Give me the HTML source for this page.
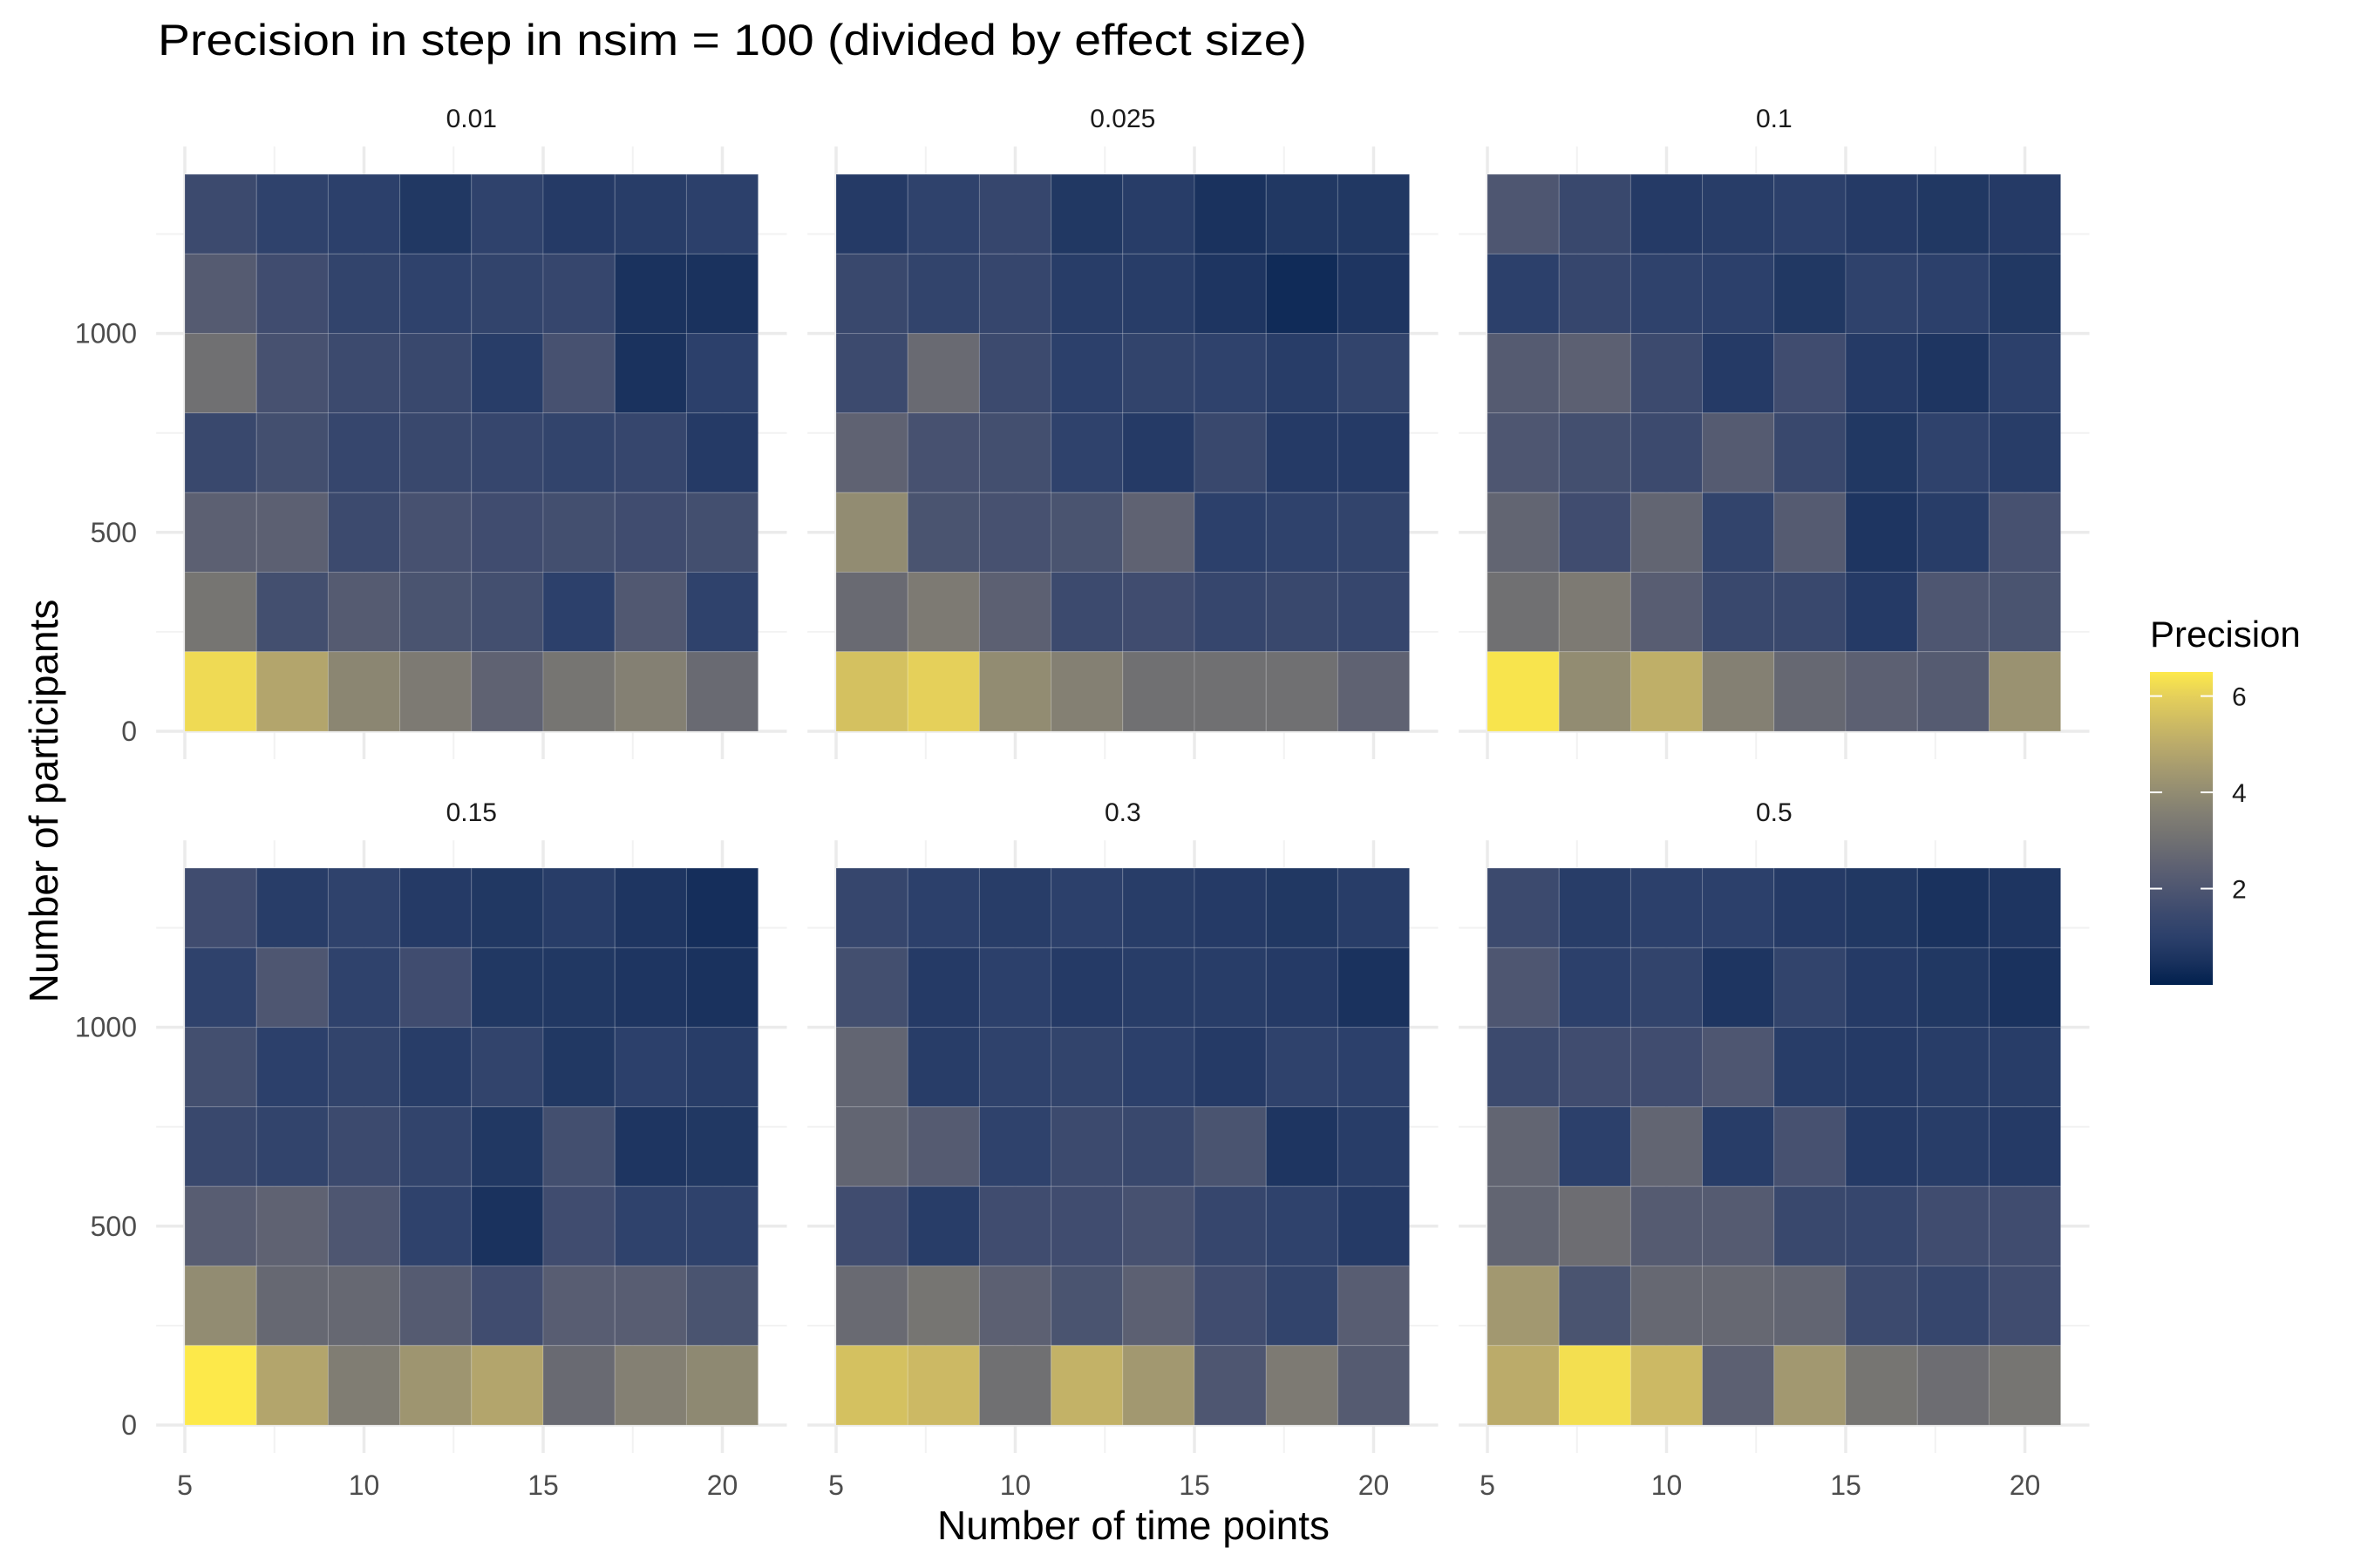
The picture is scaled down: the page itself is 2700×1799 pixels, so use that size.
<!DOCTYPE html>
<html><head><meta charset="utf-8"><style>
html,body{margin:0;padding:0;background:#fff;}
svg{display:block;font-family:"Liberation Sans",sans-serif;}
</style></head><body>
<svg id="chart" width="2700" height="1799" viewBox="0 0 2700 1799" xmlns="http://www.w3.org/2000/svg">
<rect width="2700" height="1799" fill="#fff"/>
<text x="181" y="63" font-size="50" textLength="1318" lengthAdjust="spacingAndGlyphs" fill="#000">Precision in step in nsim = 100 (divided by effect size)</text>
<text x="1300" y="1766" font-size="46" text-anchor="middle" fill="#000">Number of time points</text>
<text transform="translate(66,919) rotate(-90)" font-size="46" text-anchor="middle" fill="#000">Number of participants</text>
<g id="panels"></g>
<g id="legend"></g>
</svg>
<script>
const facetLabels = ["0.01","0.025","0.1","0.15","0.3","0.5"];
const timePoints = [6,8,10,12,14,16,18,20];
const participants = [1300,1100,900,700,500,300,100];
const xTicks = [5,10,15,20];
const yTicks = [0,500,1000];
const legendTicks = [2,4,6];
const p001 = [
[1.5,1.1,1.0,0.7,1.1,0.8,0.9,1.0],
[2.2,1.6,1.2,1.1,1.2,1.3,0.5,0.5],
[3.0,1.8,1.5,1.4,0.9,1.8,0.5,1.0],
[1.4,1.7,1.3,1.4,1.3,1.2,1.3,0.8],
[2.4,2.4,1.5,1.8,1.6,1.7,1.6,1.7],
[3.2,1.7,2.2,1.9,1.7,1.0,2.1,1.1],
[6.2,4.8,3.8,3.4,2.5,3.2,3.6,2.8]];
const p0025 = [
[0.8,1.1,1.3,0.7,0.9,0.5,0.7,0.7],
[1.4,1.2,1.3,0.9,0.9,0.6,0.3,0.6],
[1.5,2.8,1.5,1.0,1.2,1.1,0.9,1.2],
[2.5,1.8,1.7,1.1,0.8,1.4,0.8,0.8],
[4.0,1.9,1.8,1.9,2.5,1.0,1.1,1.2],
[2.8,3.4,2.4,1.5,1.6,1.3,1.4,1.3],
[5.6,6.0,4.0,3.6,3.0,3.0,3.0,2.5]];
const p01 = [
[2.0,1.4,0.8,0.9,1.0,0.8,0.7,0.8],
[1.0,1.3,1.1,1.0,0.7,1.1,1.0,0.7],
[2.2,2.4,1.5,0.8,1.6,0.8,0.6,1.0],
[2.0,1.7,1.5,2.2,1.4,0.7,1.1,0.9],
[2.6,1.6,2.6,1.2,2.2,0.6,0.9,1.8],
[3.0,3.4,2.3,1.4,1.4,0.8,2.0,1.9],
[6.4,4.0,5.1,3.6,2.7,2.4,2.2,4.2]];
const p015 = [
[1.6,0.9,1.1,0.8,0.7,0.9,0.6,0.4],
[1.1,2.0,1.1,1.6,0.7,0.7,0.6,0.5],
[1.7,1.0,1.2,0.9,1.2,0.7,1.0,0.9],
[1.4,1.2,1.5,1.2,0.7,1.7,0.6,0.7],
[2.3,2.5,2.0,1.1,0.5,1.6,1.1,1.1],
[4.0,2.7,2.7,2.2,1.6,2.3,2.3,1.9],
[6.6,4.8,3.5,4.3,4.8,2.8,3.6,3.9]];
const p03 = [
[1.3,1.0,0.9,1.0,0.9,0.8,0.7,0.9],
[1.7,0.8,1.0,0.8,0.9,0.9,0.8,0.5],
[2.6,0.9,1.1,1.2,1.0,0.8,1.1,1.0],
[2.6,2.2,1.1,1.5,1.4,1.9,0.6,0.9],
[1.6,0.9,1.6,1.6,1.8,1.3,1.1,0.8],
[2.8,3.2,2.4,1.9,2.4,1.6,1.2,2.3],
[5.6,5.4,3.0,5.2,4.4,2.0,3.4,2.2]];
const p05 = [
[1.5,0.9,1.0,1.0,0.8,0.7,0.5,0.6],
[2.0,1.0,1.2,0.6,1.2,0.8,0.7,0.5],
[1.5,1.6,1.6,2.0,0.9,0.8,0.9,0.9],
[2.6,1.0,2.6,0.9,1.8,0.8,0.9,0.8],
[2.6,2.9,2.2,2.2,1.4,1.3,1.6,1.6],
[4.4,1.9,2.7,2.7,2.6,1.5,1.3,1.6],
[5.0,6.3,5.4,2.4,4.4,3.2,2.9,3.2]];
const panelValues = [p001,p0025,p01,p015,p03,p05];

const NS="http://www.w3.org/2000/svg";
function mk(tag, attrs, parent){const e=document.createElementNS(NS,tag);for(const k in attrs)e.setAttribute(k,attrs[k]);parent.appendChild(e);return e;}
const pal=["#01204e","#1a325e","#2c406b","#3c4a6e","#4e5671","#5f6272","#707072","#807d73","#928c72","#a69b6f","#bbab6a","#d0bd62","#e5d05a","#fde94a"];
const vMin=0, vMax=6.5;
function hex(h){return [1,3,5].map(i=>parseInt(h.substr(i,2),16));}
function color(v){let t=Math.max(0,Math.min(1,(v-vMin)/(vMax-vMin)))*(pal.length-1);let i=Math.min(pal.length-2,Math.floor(t));let f=t-i;const a=hex(pal[i]),b=hex(pal[i+1]);return "rgb("+a.map((c,k)=>Math.round(c+(b[k]-c)*f)).join(",")+")";}
const panelX=[212,959,1706], panelY0=[839,1635];
const pxPerT=41.1, pxPerP=0.4564;
const root=document.getElementById('panels');
for(let p=0;p<6;p++){
  const col=p%3,row=Math.floor(p/3);
  const x0=panelX[col], y0=panelY0[row];
  const xs=t=>x0+(t-5)*pxPerT, ys=n=>y0-n*pxPerP;
  const g=mk('g',{},root);
  
  
  const L=xs(4.2),R=xs(21.8),T=ys(1470),B=ys(-70);
  for(const t of [7.5,12.5,17.5]){mk('line',{x1:xs(t),x2:xs(t),y1:T,y2:B,stroke:'#f2f2f2','stroke-width':2},g);}
  for(const n of [250,750,1250]){mk('line',{x1:L,x2:R,y1:ys(n),y2:ys(n),stroke:'#f2f2f2','stroke-width':2},g);}
  for(const t of xTicks){const l=mk('line',{x1:xs(t),x2:xs(t),y1:T,y2:B,stroke:'#ebebeb','stroke-width':3.5},g);
    
    }
  for(const n of yTicks){const l=mk('line',{x1:L,x2:R,y1:ys(n),y2:ys(n),stroke:'#ebebeb','stroke-width':3.5},g);
    
    }
  const vals=panelValues[p];
  participants.forEach((n,ri)=>{timePoints.forEach((t,ci)=>{
    const r=mk('rect',{x:xs(t-1),y:ys(n+100),width:2*pxPerT,height:200*pxPerP,fill:color(vals[ri][ci]),stroke:'rgba(255,255,255,0.18)','stroke-width':1},g);
    
    
  });});
  const s=mk('text',{x:xs(13),y:ys(1400)-54,'font-size':30,'text-anchor':'middle',fill:'#1a1a1a'},g);
  s.textContent=facetLabels[p];
  
  
  if(row===1){for(const t of xTicks){const tx=mk('text',{x:xs(t),y:1715,'font-size':32,'text-anchor':'middle',fill:'#4d4d4d'},g);tx.textContent=t;
    
    }}
  if(col===0){for(const n of yTicks){const ty=mk('text',{x:157,y:ys(n)+11,'font-size':32,'text-anchor':'end',fill:'#4d4d4d'},g);ty.textContent=n;
    
    }}
}
const lg=document.getElementById('legend');
const lt=mk('text',{x:2466,y:742,'font-size':42,fill:'#000'},lg);lt.textContent='Precision';


const defs=mk('defs',{},lg);const grad=mk('linearGradient',{id:'lgrad',x1:0,y1:1,x2:0,y2:0},defs);
pal.forEach((c,i)=>mk('stop',{offset:i/(pal.length-1),'stop-color':c},grad));
const barTop=771,barBot=1130;
const ly=v=>barBot-(v-vMin)/(vMax-vMin)*(barBot-barTop);
const bar=mk('rect',{x:2466,y:barTop,width:72,height:barBot-barTop,fill:'url(#lgrad)'},lg);


for(const v of legendTicks){
  mk('line',{x1:2466,x2:2480,y1:ly(v),y2:ly(v),stroke:'#fff','stroke-width':2},lg);
  mk('line',{x1:2524,x2:2538,y1:ly(v),y2:ly(v),stroke:'#fff','stroke-width':2},lg);
  const t=mk('text',{x:2560,y:ly(v)+11,'font-size':30,fill:'#1a1a1a'},lg);t.textContent=v;
  
  
}
</script>
</body></html>
